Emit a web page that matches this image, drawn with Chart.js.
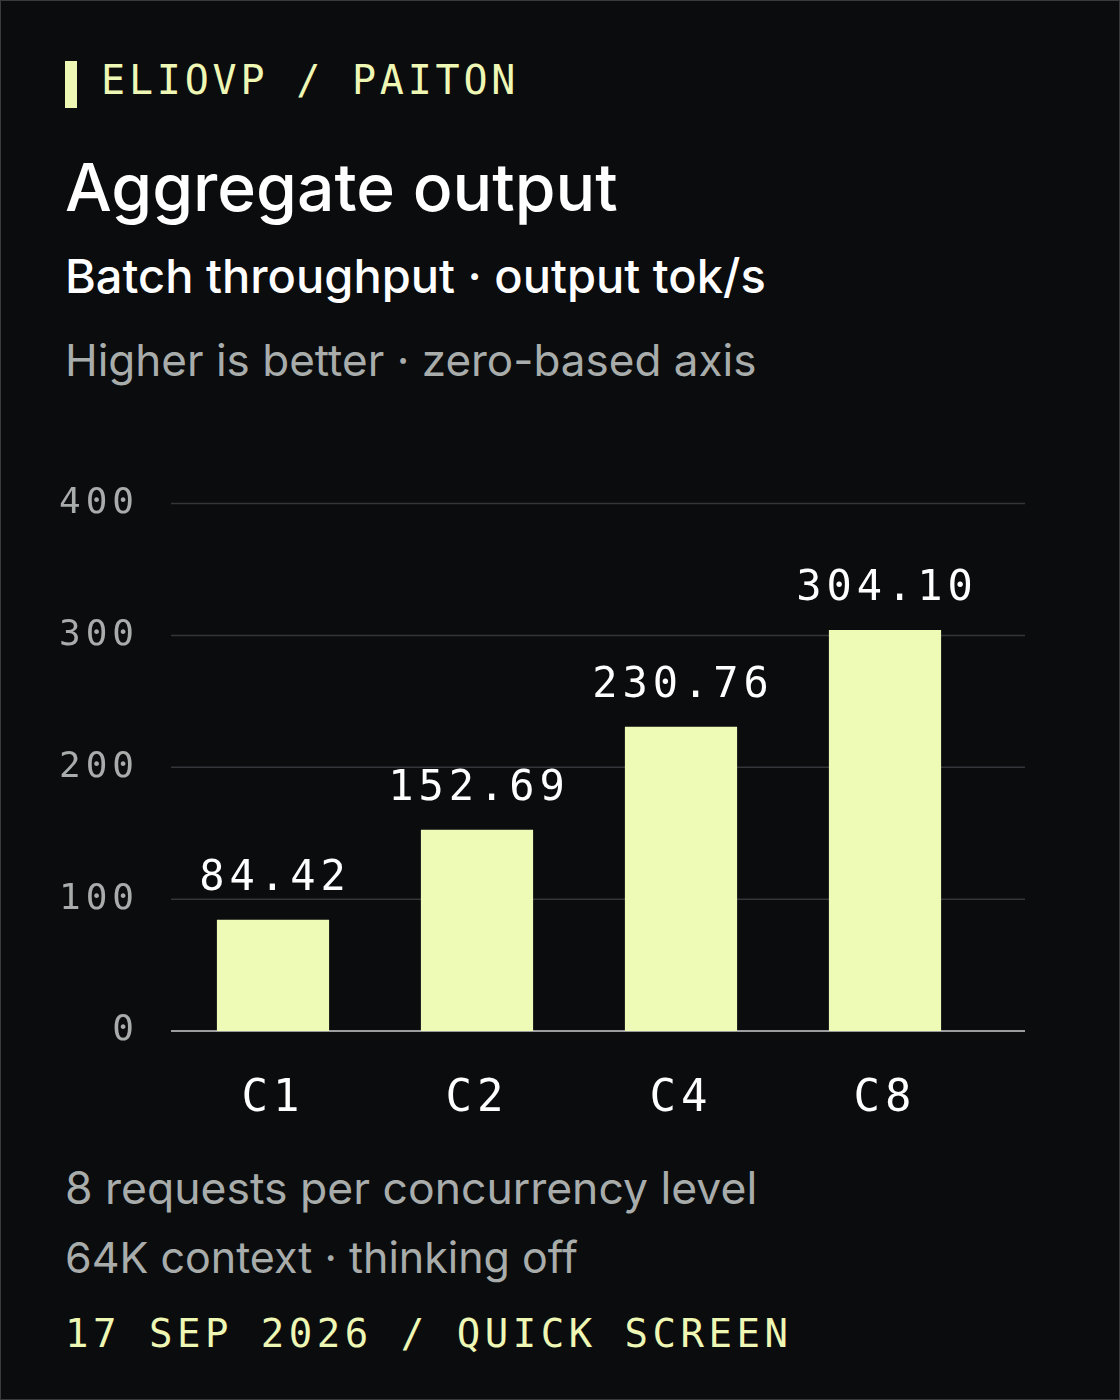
<!DOCTYPE html>
<html>
<head>
<meta charset="utf-8">
<script src="https://cdn.jsdelivr.net/npm/chart.js@4"></script>
<style>
  html, body { margin: 0; padding: 0; background: #0b0c0e; }
  .card { position: relative; width: 1118px; height: 1398px; border: 1px solid #3a3b3e; background: #0b0c0e; overflow: hidden; }
  .t { position: absolute; left: 64px; white-space: nowrap; font-family: Inter, "Noto Sans", sans-serif; }
  .mono { font-family: "DejaVu Sans Mono", "Liberation Mono", monospace; }
  #wrap { position: absolute; left: 40px; top: 457px; width: 1020px; height: 673px; }
</style>
</head>
<body>
<div class="card">
  <div style="position:absolute;left:64px;top:60px;width:12px;height:47px;background:#eef7b4"></div>
  <div class="t mono" style="left:100px;top:56px;font-size:40px;color:#eef7b4;letter-spacing:3.8px">ELIOVP / PAITON</div>
  <div class="t" style="top:146px;font-size:66px;color:#ffffff;font-weight:500">Aggregate output</div>
  <div class="t" style="top:246px;font-size:47px;color:#ffffff;font-weight:500">Batch throughput · output tok/s</div>
  <div class="t" style="top:332px;font-size:44px;color:#a8acab">Higher is better · zero-based axis</div>
  <div id="wrap"><canvas id="chart"></canvas></div>
  <div class="t" style="top:1160px;font-size:44.5px;color:#a8acab">8 requests per concurrency level</div>
  <div class="t" style="top:1230px;font-size:43px;color:#a8acab">64K context · thinking off</div>
  <div class="t mono" style="top:1310px;font-size:39px;color:#eef7b4;letter-spacing:4.5px">17 SEP 2026 / QUICK SCREEN</div>
</div>
<script>
const categories = ["C1", "C2", "C4", "C8"];
const throughput = [84.42, 152.69, 230.76, 304.10];
const yTicks = [0, 100, 200, 300, 400];

const mono = "'DejaVu Sans Mono', 'Liberation Mono', monospace";
const gridRight = 1024 - 40;

// wider spacing for the mono labels, and grid lines that run past the last bar
const extras = {
  id: "extras",
  beforeDraw(chart) {
    chart.ctx.letterSpacing = "5px";
    const y = chart.scales.y;
    const ctx = chart.ctx;
    ctx.save();
    ctx.strokeStyle = "#333538";
    ctx.lineWidth = 1.5;
    yTicks.forEach(function (v) {
      if (v === 0) return;
      const py = y.getPixelForValue(v);
      ctx.beginPath();
      ctx.moveTo(chart.chartArea.left, py);
      ctx.lineTo(gridRight, py);
      ctx.stroke();
    });
    ctx.strokeStyle = "#9a9c9e";
    ctx.lineWidth = 2;
    const p0 = y.getPixelForValue(0);
    ctx.beginPath();
    ctx.moveTo(chart.chartArea.left, p0);
    ctx.lineTo(gridRight, p0);
    ctx.stroke();
    ctx.restore();
  },
  afterDatasetsDraw(chart) {
    const ctx = chart.ctx;
    const meta = chart.getDatasetMeta(0);
    ctx.save();
    ctx.font = "42px " + mono;
    ctx.letterSpacing = "5px";
    ctx.fillStyle = "#ffffff";
    ctx.textAlign = "center";
    ctx.textBaseline = "bottom";
    meta.data.forEach(function (bar, i) {
      ctx.fillText(throughput[i].toFixed(2), bar.x + 2, bar.y - 20);
    });
    ctx.restore();
  }
};

new Chart(document.getElementById("chart"), {
  type: "bar",
  data: {
    labels: categories,
    datasets: [{
      data: throughput,
      backgroundColor: "#eefbb6",
      borderWidth: 0,
      barPercentage: 0.55,
      categoryPercentage: 1
    }]
  },
  options: {
    responsive: true,
    maintainAspectRatio: false,
    animation: false,
    layout: { padding: { top: 27, right: 74, left: 0, bottom: 0 } },
    plugins: { legend: { display: false }, tooltip: { enabled: false } },
    scales: {
      x: {
        grid: { display: false },
        border: { display: false },
        ticks: { color: "#ffffff", font: { family: mono, size: 44 }, padding: 34 },
        afterFit(scale) { scale.height = 100; }
      },
      y: {
        min: 0,
        max: 400,
        afterBuildTicks(scale) { scale.ticks = yTicks.map(v => ({ value: v })); },
        grid: { display: false },
        border: { display: false },
        ticks: { color: "#a8acab", font: { family: mono, size: 36 }, padding: 24 },
        afterFit(scale) { scale.width = 130; }
      }
    }
  },
  plugins: [extras]
});
</script>
</body>
</html>
